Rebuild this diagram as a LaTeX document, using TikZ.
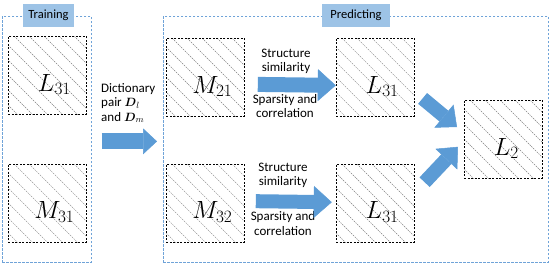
\documentclass[tikz,border=0pt]{standalone}
\usepackage{amsmath}
\usepackage{amssymb}
\usepackage[no-math]{fontspec}
\setmainfont{Carlito}
\usepackage{tikz}
\usetikzlibrary{arrows.meta, positioning, calc}
\definecolor{PBlue}{HTML}{5B9BD5}
\definecolor{PLight}{HTML}{9DC3E6}
\definecolor{PFrame}{HTML}{6FA3D8}

\begin{document}
\begin{tikzpicture}[
    x=1pt, y=-1pt,
    panel/.style={rectangle, draw=PFrame, line width=0.7pt, dash pattern=on 2.5pt off 1.5pt, inner sep=0pt},
    tag/.style={rectangle, fill=PLight, minimum height=23pt, inner sep=0pt, font=\fontsize{12.5}{14}\selectfont},
    patch/.style={rectangle, draw, line width=0.8pt, dash pattern=on 2pt off 1.5pt, minimum width=78pt, minimum height=78pt, inner sep=0pt,
        path picture={\foreach \k in {-84,-69,...,81}
            \draw[gray, line width=0.4pt, dash pattern=on 1.5pt off 1pt] ([xshift=\k pt]path picture bounding box.north west) -- ++(100pt,-100pt);}},
    sym/.style={shift={(7,9)}, font=\fontsize{27}{27}\selectfont},
    txt/.style={align=center, font=\fontsize{13}{14.5}\selectfont, inner sep=0pt},
    blockarrow/.style={draw=PBlue, line width=15pt, -{Triangle[length=18pt, width=32pt, line width=0.5pt]}}
]
\useasboundingbox (0,0) rectangle (550,268);

% training side
\node[panel, minimum width=89pt, minimum height=246pt, anchor=north west] (train) at (2,16) {};
\node[tag, minimum width=51pt] (traintag) at (48.5,15.5) {Training};
\node[patch, anchor=north west, label={[sym]center:$L_{31}$}] (l31) at (8,36) {};
\node[patch, below=49pt of l31, label={[sym]center:$M_{31}$}] (m31) {};

% predicting side
\node[panel, minimum width=385pt, minimum height=246pt, anchor=north west] (predict) at (163,16) {};
\node[tag, minimum width=68pt] (predtag) at (356,15.5) {Predicting};
\node[patch, anchor=north west, label={[sym]center:$M_{21}$}] (m21) at (166,38) {};
\node[patch, below=47pt of m21, label={[sym]center:$M_{32}$}] (m32) {};
\node[patch, right=91pt of m21, label={[sym]center:$L_{31}$}] (l31a) {};
\node[patch, right=91pt of m32, label={[sym]center:$L_{31}$}] (l31b) {};
\node[patch, anchor=north west, label={[sym, shift={(-4,0)}]center:$L_2$}] (l2) at (464,100) {};

% texts
\node[txt, align=left, anchor=west] (dict) at (101,103) {Dictionary\\pair $\boldsymbol{D}_l$\\and $\boldsymbol{D}_m$};
\node[txt] (sim1) at (286,61.5) {Structure\\similarity};
\node[txt] (spc1) at (285,106) {Sparsity and\\correlation};
\node[txt] (sim2) at (283,175.5) {Structure\\similarity};
\node[txt] (spc2) at (283,223.5) {Sparsity and\\correlation};

% arrows
\draw[blockarrow, line width=16pt, -{Triangle[length=14pt, width=26pt, line width=0.5pt]}] ([shift={(10,2)}]train.east) -- ([shift={(-6,2)}]predict.west);
\draw[blockarrow] ([shift={(13,7)}]m21.east) -- ([shift={(0,8)}]l31a.west);
\draw[blockarrow, line width=14pt] ([shift={(11,-2)}]m32.east) -- ([shift={(-4,-1)}]l31b.west);
\draw[blockarrow, line width=14pt, -{Triangle[length=17pt, width=30pt, line width=0.5pt]}] ([shift={(8,21)}]l31a.east) -- ([shift={(-7,27)}]l2.north west);
\draw[blockarrow, line width=14pt, -{Triangle[length=17pt, width=30pt, line width=0.5pt]}] ([shift={(10,-21)}]l31b.east) -- ([shift={(-6,-32)}]l2.south west);
\end{tikzpicture}
\end{document}
